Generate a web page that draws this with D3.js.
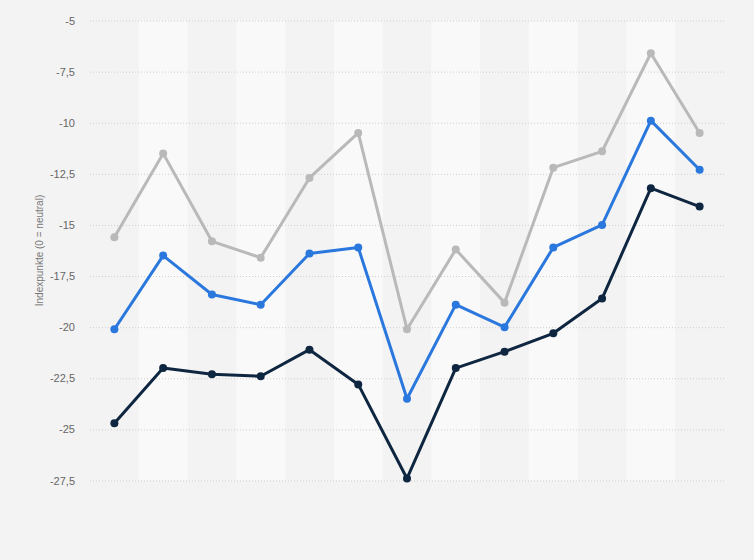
<!DOCTYPE html>
<html><head><meta charset="utf-8">
<script src="https://cdn.jsdelivr.net/npm/d3@7"></script>
<style>
html,body{margin:0;padding:0;background:#f3f3f3;}
svg{display:block;font-family:"Liberation Sans",Arial,sans-serif;}
</style></head>
<body><svg id="chart" width="754" height="560"></svg>
<script>
const categories = ["1","2","3","4","5","6","7","8","9","10","11","12","13"];
const seriesGray  = [-15.6,-11.5,-15.8,-16.6,-12.7,-10.5,-20.1,-16.2,-18.8,-12.2,-11.4,-6.6,-10.5];
const seriesBlue  = [-20.1,-16.5,-18.4,-18.9,-16.4,-16.1,-23.5,-18.9,-20.0,-16.1,-15.0,-9.9,-12.3];
const seriesDark  = [-24.7,-22.0,-22.3,-22.4,-21.1,-22.8,-27.4,-22.0,-21.2,-20.3,-18.6,-13.2,-14.1];
const yTicks = [-5,-7.5,-10,-12.5,-15,-17.5,-20,-22.5,-25,-27.5];
const yTitle = "Indexpunkte (0 = neutral)";

const series = [
  {values: seriesGray, color: "#b9b9b9"},
  {values: seriesBlue, color: "#2a78de"},
  {values: seriesDark, color: "#0e2640"}
];

const margin = {left: 90, right: 30, top: 20.5, bottom: 79.5};
const W = 754, H = 560;
const svg = d3.select("#chart");

const x = d3.scaleBand().domain(categories).range([margin.left, W - margin.right]).padding(0);
const y = d3.scaleLinear().domain([-27.5, -5]).range([H - margin.bottom, margin.top]);

// background
svg.append("rect").attr("x",0).attr("y",0).attr("width",W).attr("height",H).attr("fill","#f3f3f3");

// alternating bands
svg.append("g").selectAll("rect").data(categories.filter((d,i)=>i%2===1)).join("rect")
  .attr("x", d => x(d)).attr("width", x.bandwidth())
  .attr("y", y(-5)).attr("height", y(-27.5) - y(-5))
  .attr("fill", "#f9f9f9");

// y axis with gridlines
const fmt = d => String(d).replace(".", ",");
const yAxis = d3.axisLeft(y).tickValues(yTicks).tickFormat(fmt)
  .tickSize(-(W - margin.right - margin.left)).tickPadding(15);
const gy = svg.append("g").attr("transform", `translate(${margin.left},0)`).call(yAxis);
gy.select(".domain").remove();
gy.selectAll(".tick line").attr("stroke", "#cfcfcf").attr("stroke-width", 1).attr("stroke-dasharray", "1,2");
gy.selectAll(".tick text").attr("fill", "#666").attr("font-size", 11)
  .attr("font-family", "'Liberation Sans',Arial,sans-serif");

// y title
svg.append("text")
  .attr("transform", `translate(43,${(y(-5)+y(-27.5))/2}) rotate(-90)`)
  .attr("text-anchor", "middle")
  .attr("fill", "#777").attr("font-size", 10)
  .text(yTitle);

// lines
const line = d3.line().x((d,i) => x(categories[i]) + x.bandwidth()/2).y(d => y(d));
series.forEach(s => {
  svg.append("path").datum(s.values).attr("d", line)
    .attr("fill", "none").attr("stroke", s.color).attr("stroke-width", 3)
    .attr("stroke-linejoin", "round");
  svg.append("g").selectAll("circle").data(s.values).join("circle")
    .attr("cx", (d,i) => x(categories[i]) + x.bandwidth()/2)
    .attr("cy", d => y(d)).attr("r", 4).attr("fill", s.color);
});
</script></body></html>
